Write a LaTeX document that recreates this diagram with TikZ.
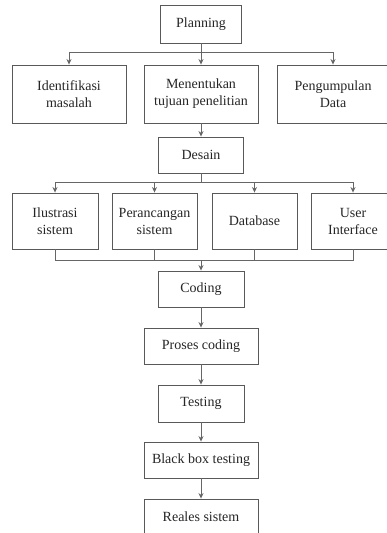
\documentclass[tikz,border=0pt]{standalone}
\usepackage{fontspec}
\setmainfont{Liberation Serif}
\usetikzlibrary{arrows.meta}
\begin{document}
\begin{tikzpicture}[x=1pt,y=-1pt,
  box/.style={draw=black!65, line width=0.9pt, fill=white, align=center, inner sep=1pt,
    font=\fontsize{14}{17}\selectfont, text=black!85},
  link/.style={draw=black!60, line width=0.8pt},
  arr/.style={link, -{Stealth[length=5.5pt,width=5pt]}}]
\clip (0,0) rectangle (387,533);
\fill[white] (0,0) rectangle (387,533);
% nodes
\node[box, minimum width=81pt, minimum height=38pt] (plan) at (201,24) {Planning};
\node[box, minimum width=114pt, minimum height=58pt] (iden) at (69,94) {Identifikasi\\masalah};
\node[box, minimum width=114pt, minimum height=58pt] (tuju) at (201,94) {Menentukan\\tujuan penelitian};
\node[box, minimum width=112pt, minimum height=58pt] (kump) at (333,94) {Pengumpulan\\Data};
\node[box, minimum width=85pt, minimum height=36pt] (des) at (201,155) {Desain};
\node[box, minimum width=86pt, minimum height=56pt] (ilus) at (55,221) {Ilustrasi\\sistem};
\node[box, minimum width=85pt, minimum height=56pt] (pera) at (154.5,221) {Perancangan\\sistem};
\node[box, minimum width=85pt, minimum height=56pt] (data) at (254.5,221) {Database};
\node[box, minimum width=84pt, minimum height=56pt] (ui) at (353,221) {User\\Interface};
\node[box, minimum width=86pt, minimum height=36pt] (cod) at (201,289) {Coding};
\node[box, minimum width=114pt, minimum height=36pt] (pros) at (201,346) {Proses coding};
\node[box, minimum width=86pt, minimum height=37pt] (test) at (201,403.5) {Testing};
\node[box, minimum width=114pt, minimum height=36pt] (bb) at (201,460) {Black box testing};
\node[box, minimum width=114pt, minimum height=36pt] (rel) at (201,517) {Reales sistem};
% junction coordinates
\coordinate (j1) at (201,52);
\coordinate (j2) at (201,182);
\coordinate (j3) at (201,260);
% planning fan-out
\draw[arr] (plan.south) -- (tuju.north);
\draw[arr] (j1) -| (iden.north);
\draw[arr] (j1) -| (kump.north);
% menentukan to desain
\draw[arr] (tuju.south) -- (des.north);
% desain fan-out
\draw[link] (des.south) -- (j2);
\draw[arr] (j2) -| (ilus.north);
\draw[arr] (j2) -| (pera.north);
\draw[arr] (j2) -| (data.north);
\draw[arr] (j2) -| (ui.north);
% merge
\draw[link] (ilus.south) |- (j3);
\draw[link] (pera.south) |- (j3);
\draw[link] (data.south) |- (j3);
\draw[link] (ui.south) |- (j3);
\draw[arr] (j3) -- (cod.north);
% chain
\draw[arr] (cod.south) -- (pros.north);
\draw[arr] (pros.south) -- (test.north);
\draw[arr] (test.south) -- (bb.north);
\draw[arr] (bb.south) -- (rel.north);
\end{tikzpicture}
\end{document}
